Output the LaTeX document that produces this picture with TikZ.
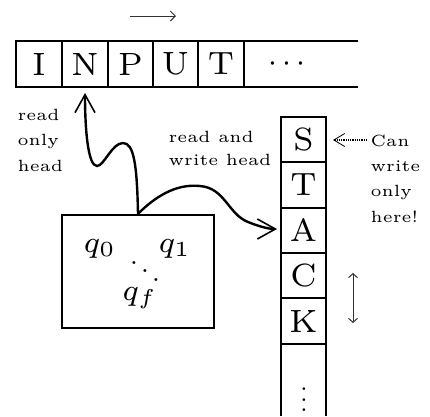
\documentclass[tikz,border=0pt]{standalone}
\usetikzlibrary{arrows.meta}
\begin{document}
\begin{tikzpicture}[x=1pt,y=-1pt,
  tape/.style={line width=2.4pt},
  sep/.style={line width=2pt},
  big/.style={font=\fontsize{7}{8}\selectfont, scale=4.6, transform shape, inner sep=0pt},
  mth/.style={font=\fontsize{7}{8}\selectfont, scale=4.3, transform shape, inner sep=0pt},
  lbl/.style={font=\fontsize{5}{7.7}\selectfont, scale=3.25, transform shape, align=left, inner sep=0pt, anchor=base west},
  headarrow/.style={line width=2.4pt, -{Straight Barb[length=18pt,width=20pt,line width=1.6pt]}},
  thinarrow/.style={line width=1pt, draw=black!80},
]
\useasboundingbox (0,0) rectangle (430,416);
% input tape
\draw[tape] (358,41) -- (16,41) -- (16,87) -- (358,87);
\foreach \x in {62,108,153,198}{\draw[sep] (\x,41) -- (\x,87);}
\draw[tape] (244,41) -- (244,87);
\node[big] (i1) at (39,64) {I};
\node[big] (i2) at (85,64) {N};
\node[big] (i3) at (130.5,64) {P};
\node[big] (i4) at (175.5,64) {U};
\node[big] (i5) at (221,64) {T};
\node[scale=3.2, transform shape, inner sep=0pt] (idots) at (287,64) {$\cdots$};
% direction arrow
\coordinate (da) at (130,16);
\coordinate (db) at (176,16);
\draw[thinarrow, -{Straight Barb[length=5pt,width=10pt]}] (da) -- (db);
% stack
\draw[tape] (281,416) -- (281,117) -- (326,117) -- (326,416);
\foreach \y in {162,208,253,344}{\draw[sep] (281,\y) -- (326,\y);}
\draw[tape] (281,298) -- (326,298);
\node[big] (s1) at (303.5,139.5) {S};
\node[big] (s2) at (303.5,185) {T};
\node[big] (s3) at (303.5,230.5) {A};
\node[big] (s4) at (303.5,275.5) {C};
\node[big] (s5) at (303.5,321) {K};
\node[scale=2.6, transform shape, inner sep=0pt] (sdots) at (304,392) {$\vdots$};
% finite control
\node[draw, line width=2.4pt, minimum width=152pt, minimum height=113pt, inner sep=0pt] (box) at (138,271.5) {};
\node[mth] (q0) at (100,249) {$q_0$};
\node[mth] (q1) at (175,249) {$q_1$};
\node[scale=2.8, transform shape, inner sep=0pt] (qd) at (145,263) {$\ddots$};
\node[mth] (qf) at (140,298) {$q_f$};
% heads
\coordinate (ro) at (85,93);
\draw[headarrow] (box.north) .. controls (137,165) and (134,143) .. (123,143)
  .. controls (112,143) and (104,166) .. (97,166)
  .. controls (88,166) and (85,130) .. (ro);
\coordinate (rw) at (277,229);
\draw[headarrow] (box.north) .. controls (160,192) and (180,184) .. (200,186)
  .. controls (225,188) and (228,214) .. (248,222)
  .. controls (258,226) and (268,229) .. (rw);
% labels
\node[lbl] (l1) at (17,171) {read\\only\\head};
\node[lbl, font=\fontsize{5}{6.9}\selectfont] (l2) at (168,165) {read and\\write head};
\node[lbl] (l3) at (370,222) {Can\\write\\only\\here!};
% can write arrow
\coordinate (cw) at (367,140);
\coordinate (cwt) at (333,140);
\draw[line width=2pt, dash pattern=on 1pt off 0.8pt, -{Straight Barb[length=11pt,width=13pt,line width=0.8pt]}] (cw) -- (cwt);
% up-down arrow
\coordinate (ua) at (353,273);
\coordinate (ub) at (353,323);
\draw[thinarrow, {Straight Barb[length=4pt,width=9pt]}-{Straight Barb[length=4pt,width=9pt]}] (ua) -- (ub);
\end{tikzpicture}
\end{document}
